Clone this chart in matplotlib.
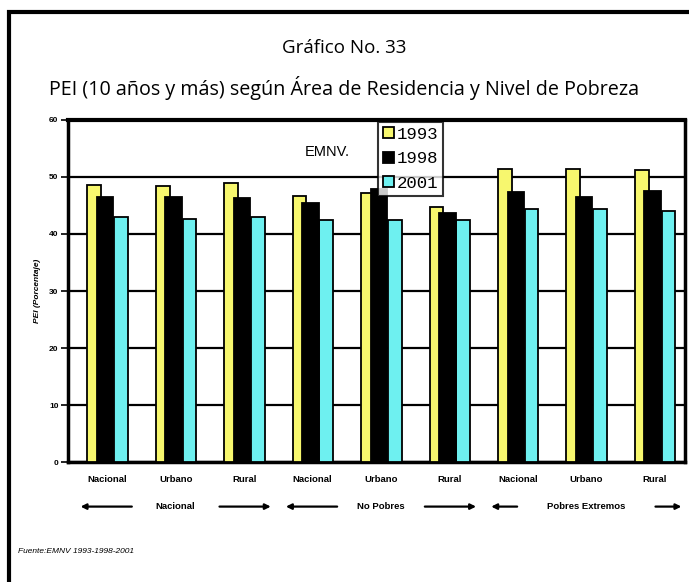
import numpy as np
from matplotlib import pyplot as plt
from matplotlib.patches import Rectangle

# PEI (10 años y más) - EMNV 1993, 1998, 2001
categorias = ["Nacional", "Urbano", "Rural",
              "Nacional", "Urbano", "Rural",
              "Nacional", "Urbano", "Rural"]
grupos = ["Nacional", "No Pobres", "Pobres Extremos"]
v1993 = [48.6, 48.4, 48.9, 46.7, 47.2, 44.7, 51.4, 51.4, 51.2]
v1998 = [46.4, 46.5, 46.3, 45.5, 47.8, 43.7, 47.4, 46.5, 47.6]
v2001 = [42.9, 42.6, 42.9, 42.5, 42.4, 42.5, 44.4, 44.4, 44.0]
anios = ["1993", "1998", "2001"]
yticks = [0, 10, 20, 30, 40, 50, 60]

amarillo = "#f7f76e"
negro = "#000000"
cian = "#6ef0f0"

fig = plt.figure(figsize=(6.89, 5.82), dpi=100)
ax = fig.add_axes([0.099, 0.206, 0.895, 0.588])

x = np.arange(len(categorias))
b1 = ax.bar(x - 0.19, v1993, 0.2, color=amarillo, edgecolor="black", linewidth=1.3, zorder=3)
b2 = ax.bar(x - 0.03, v1998, 0.24, color=negro, edgecolor="black", linewidth=1.3, zorder=4)
b3 = ax.bar(x + 0.2, v2001, 0.2, color=cian, edgecolor="black", linewidth=1.3, zorder=3)

ax.set_ylim(0, 60)
ax.set_xlim(-0.57, 8.44)
ax.set_yticks(yticks)
ax.set_yticklabels([str(t) for t in yticks], fontsize=6, fontweight="bold", family="Liberation Sans")
ax.yaxis.grid(True, color="black", linewidth=1.6, zorder=0)
ax.set_axisbelow(True)
ax.tick_params(axis="y", length=5, width=1.2, pad=2)
ax.tick_params(axis="x", length=0, pad=9)
ax.set_xticks(x)
ax.set_xticklabels(categorias, fontsize=6.8, fontweight="bold", family="Liberation Sans")
for s in ax.spines.values():
    s.set_linewidth(2.5)
ax.spines["top"].set_linewidth(3)

ax.set_ylabel("PEI (Porcentaje)", fontsize=6, fontweight="bold", style="italic",
              family="Liberation Sans", labelpad=6)

ax.text(3.55, 54.4, "EMNV.", fontsize=10.5, family="Liberation Sans", ha="right", va="center")

leg = ax.legend([b1, b2, b3], anios, loc="upper left", bbox_to_anchor=(0.5, 1.0),
                prop={"family": "Liberation Mono", "size": 12.5}, frameon=True, fancybox=False,
                edgecolor="black", handlelength=0.6, handleheight=0.6, handletextpad=0.15,
                borderpad=0.3, labelspacing=0.55, borderaxespad=0.1)
leg.get_frame().set_linewidth(1.5)
leg.set_zorder(10)

# etiquetas de grupo con flechas
trans = ax.get_xaxis_transform()
yg = -0.13
medios = [0.6, 0.6, 0.97]
for k, g in enumerate(grupos):
    c = 3 * k + 1
    ax.text(c, yg, g, transform=trans, ha="center", va="center", fontsize=6.8,
            fontweight="bold", family="Liberation Sans")
    ax.annotate("", xy=(c - 1.43, yg), xytext=(c - medios[k], yg), xycoords=trans,
                textcoords=trans, annotation_clip=False,
                arrowprops=dict(arrowstyle="-|>", color="black", lw=1.6, mutation_scale=8))
    ax.annotate("", xy=(c + 1.43, yg), xytext=(c + medios[k], yg), xycoords=trans,
                textcoords=trans, annotation_clip=False,
                arrowprops=dict(arrowstyle="-|>", color="black", lw=1.6, mutation_scale=8))

fig.text(0.5, 0.918, "Gráfico No. 33", ha="center", va="center", fontsize=13.5, family="Open Sans")
fig.text(0.5, 0.848, "PEI (10 años y más) según Área de Residencia y Nivel de Pobreza",
         ha="center", va="center", fontsize=14.2, family="Open Sans")
fig.text(0.026, 0.052, "Fuente:EMNV 1993-1998-2001", ha="left", va="center", fontsize=6,
         style="italic", family="Liberation Sans")

# marco exterior
fig.patches.append(Rectangle((0.013, -0.05), 1.05, 1.03, transform=fig.transFigure,
                             fill=False, edgecolor="black", linewidth=3))

fig.savefig("out.png", dpi=100)
